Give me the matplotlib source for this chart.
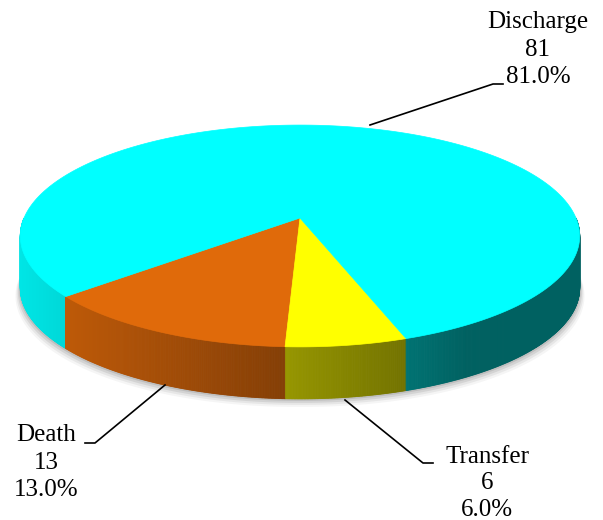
import numpy as np
import matplotlib
matplotlib.use("Agg")
import matplotlib.pyplot as plt
from matplotlib.patches import Polygon

# data
labels = ["Discharge", "Death", "Transfer"]
values = [81, 13, 6]
top_colors = ["#00FFFF", "#E06A0A", "#FFFF00"]

# drawing order goes counterclockwise from the Death wedge
order = [1, 2, 0]
start_angle = 220.6

# pie geometry (pixels)
cx, cy = 300, 218
rx, ry = 276, 108
k = 0.162          # perspective
depth = 52


def proj(theta, dz=0.0):
    t = np.radians(theta)
    s, c = np.sin(t), np.cos(t)
    den = 1 + k * s
    return cx + rx * c / den, cy - ry * s / den + dz


def shade(color, x):
    u = (x - 20) / 560.0
    f = max(0.38, 0.9 - 0.65 * u)
    rgb = np.array(matplotlib.colors.to_rgb(color))
    return tuple(rgb * f)


fig = plt.figure(figsize=(6.03, 5.2), dpi=100)
ax = fig.add_axes([0, 0, 1, 1])
ax.set_xlim(0, 603)
ax.set_ylim(520, 0)
ax.axis("off")

total = float(sum(values))
bounds = {}
a = start_angle
for i in order:
    span = 360.0 * values[i] / total
    bounds[i] = (a, a + span)
    a += span

# soft shadow under the pie
th = np.linspace(180, 360, 200)
for off, al in [(8, 0.08), (6, 0.12), (4, 0.18), (2, 0.25)]:
    xs, ys = proj(th, depth + off)
    xs = np.where(xs < cx, xs - off * 0.6, xs + off * 0.6)
    xt, yt = proj(th[::-1], 0)
    pts = np.column_stack([np.r_[xs, xt], np.r_[ys, yt]])
    ax.add_patch(Polygon(pts, closed=True, color="gray", alpha=al, lw=0, zorder=1))


def wedge_of(theta):
    for i, (a0, a1) in bounds.items():
        t = theta
        while t < a0:
            t += 360
        while t >= a0 + 360:
            t -= 360
        if a0 <= t < a1:
            return i
    return 0


# side wall (front half)
steps = np.linspace(180, 360, 721)
for t0, t1 in zip(steps[:-1], steps[1:]):
    i = wedge_of((t0 + t1) / 2)
    x0, y0 = proj(t0)
    x1, y1 = proj(t1)
    col = shade(top_colors[i], (x0 + x1) / 2)
    quad = [(x0, y0), (x1, y1), (x1, y1 + depth), (x0, y0 + depth)]
    ax.add_patch(Polygon(quad, closed=True, facecolor=col, edgecolor=col, lw=0.6, zorder=2))

# top faces
for i in order:
    a0, a1 = bounds[i]
    th = np.linspace(a0, a1, 200)
    xs, ys = proj(th)
    pts = np.column_stack([np.r_[cx, xs], np.r_[cy, ys]])
    ax.add_patch(Polygon(pts, closed=True, facecolor=top_colors[i], edgecolor=top_colors[i],
                         lw=0.5, zorder=3))

# labels with leader lines
font = dict(family="Liberation Serif", fontsize=18, ha="center", va="top", linespacing=1.33)
texts = ["%s\n%d\n%.1f%%" % (labels[i], values[i], 100 * values[i] / total) for i in range(3)]

ax.text(538, 11, texts[0], **font)
ax.plot([370, 493, 503], [125, 84, 84], color="black", lw=1.2, zorder=4)

ax.text(46, 424, texts[1], **font)
ax.plot([165, 95, 85], [385, 443, 443], color="black", lw=1.2, zorder=4)

ax.text(487, 446, texts[2], fontsize=18, family="Liberation Serif", ha="center", va="top",
        linespacing=1.26)
ax.plot([345, 423, 433], [400, 463, 463], color="black", lw=1.2, zorder=4)

fig.savefig("out.png", dpi=100)
